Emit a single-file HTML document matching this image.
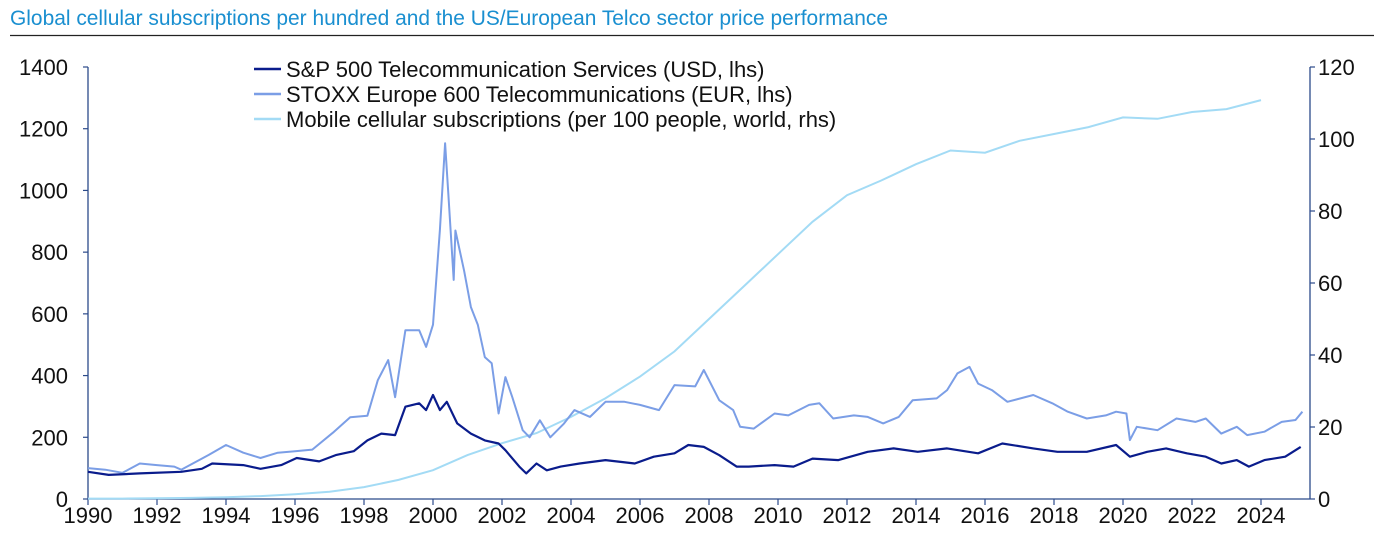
<!DOCTYPE html>
<html><head><meta charset="utf-8"><style>
body{margin:0;background:#fff;width:1374px;height:551px;overflow:hidden;font-family:"Liberation Sans",sans-serif}
svg text{font-family:"Liberation Sans",sans-serif}
</style></head><body>
<svg id="chart" width="1374" height="551" xmlns="http://www.w3.org/2000/svg">
<text x="10" y="25" font-size="20.8" fill="#1a8fd0" textLength="878" lengthAdjust="spacingAndGlyphs">Global cellular subscriptions per hundred and the US/European Telco sector price performance</text>
<line x1="10" y1="35.5" x2="1374" y2="35.5" stroke="#222" stroke-width="1.2"/>
<g id="axes"></g><g id="series"></g><g id="legend"></g>
</svg>
<script>
const spYears=[1990,1990.6,1991.5,1992.7,1993.3,1993.6,1994.5,1995,1995.6,1996.05,1996.7,1997.2,1997.7,1998.1,1998.5,1998.9,1999.2,1999.6,1999.8,2000,2000.2,2000.4,2000.7,2001.1,2001.5,2001.9,2002.1,2002.5,2002.7,2003,2003.3,2003.7,2004.25,2005,2005.85,2006.4,2007,2007.4,2007.85,2008.3,2008.8,2009.15,2009.9,2010.45,2011,2011.75,2012.6,2013.35,2014.05,2014.9,2015.8,2016.5,2017.4,2018.1,2018.95,2019.8,2020.2,2020.7,2021.25,2021.85,2022.4,2022.85,2023.3,2023.65,2024.1,2024.7,2025.15];
const spValues=[88,78,83,88,98,115,110,98,110,133,122,143,155,190,212,207,299,310,288,337,288,315,245,212,190,180,158,105,83,115,93,105,115,126,115,137,148,175,169,142,105,105,110,105,131,126,153,164,153,164,148,180,164,153,153,175,137,153,164,148,137,115,126,105,126,137,169];
const stYears=[1990,1990.5,1991,1991.5,1992,1992.5,1992.7,1993.5,1994,1994.5,1995,1995.5,1996,1996.5,1997.1,1997.6,1998.1,1998.4,1998.7,1998.9,1999.2,1999.6,1999.8,2000,2000.2,2000.35,2000.45,2000.6,2000.65,2000.9,2001.1,2001.3,2001.5,2001.7,2001.9,2002.1,2002.3,2002.6,2002.8,2003.1,2003.4,2003.8,2004.1,2004.55,2005,2005.55,2006,2006.55,2007,2007.6,2007.85,2008.3,2008.7,2008.9,2009.3,2009.9,2010.3,2010.9,2011.2,2011.6,2012.2,2012.6,2013.05,2013.5,2013.9,2014.6,2014.9,2015.2,2015.55,2015.8,2016.2,2016.65,2017.4,2017.95,2018.4,2018.95,2019.5,2019.8,2020.1,2020.2,2020.4,2021,2021.55,2022.1,2022.4,2022.85,2023.3,2023.6,2024.1,2024.6,2025,2025.2];
const stValues=[100,95,85,115,110,105,95,143,175,150,133,150,155,160,215,265,270,385,450,330,547,547,493,565,872,1153,980,710,870,740,622,565,460,440,277,395,330,223,200,255,200,245,288,266,315,315,305,288,369,365,418,320,288,234,228,277,271,305,310,261,271,266,245,266,320,326,353,407,428,374,353,315,337,310,283,261,271,283,277,191,234,223,261,250,261,212,234,207,218,250,256,283];
const mobYears=[1990,1991,1992,1993,1994,1995,1996,1997,1998,1999,2000,2001,2002,2003,2004,2005,2006,2007,2008,2009,2010,2011,2012,2013,2014,2015,2016,2017,2018,2019,2020,2021,2022,2023,2024];
const mobValues=[0.1,0.1,0.2,0.3,0.5,0.8,1.3,2,3.3,5.3,8,12.2,15.5,18.3,22.8,28,34,41,50,59,68,77,84.4,88.5,93,96.8,96.2,99.5,101.4,103.3,106,105.6,107.5,108.3,110.8];
const xTicks=[1990,1992,1994,1996,1998,2000,2002,2004,2006,2008,2010,2012,2014,2016,2018,2020,2022,2024];
const yLeftTicks=[0,200,400,600,800,1000,1200,1400];
const yRightTicks=[0,20,40,60,80,100,120];

const X0=88,X1=1310,Y0=499,Y1=67;
const xs=y=>X0+(y-1990)*34.5;
const yl=v=>Y0-v*(Y0-Y1)/1400;
const yr=v=>Y0-v*(Y0-Y1)/120;
const NS='http://www.w3.org/2000/svg';
function mk(tag,attrs,parent,txt){const e=document.createElementNS(NS,tag);for(const k in attrs)e.setAttribute(k,attrs[k]);if(txt!==undefined)e.textContent=txt;parent.appendChild(e);return e;}
const ax=document.getElementById('axes'),se=document.getElementById('series'),lg=document.getElementById('legend');
const AX='#2b4a8a';
const FS=22;
let e;
e=mk('line',{x1:X0,y1:Y1,x2:X0,y2:Y0,stroke:AX,'stroke-width':1.3},ax);


e=mk('line',{x1:X1,y1:Y1,x2:X1,y2:Y0,stroke:AX,'stroke-width':1.3},ax);


e=mk('line',{x1:X0,y1:Y0,x2:X1,y2:Y0,stroke:AX,'stroke-width':1.3},ax);


xTicks.forEach(t=>{
 e=mk('line',{x1:xs(t),y1:Y0,x2:xs(t),y2:Y0+6,stroke:AX,'stroke-width':1.2},ax);
 
 
 e=mk('text',{x:xs(t),y:Y0+24,'font-size':FS,'text-anchor':'middle',fill:'#111'},ax,String(t));
 
 
});
yLeftTicks.forEach(t=>{
 e=mk('line',{x1:X0-5,y1:yl(t),x2:X0,y2:yl(t),stroke:AX,'stroke-width':1.2},ax);
 
 
 e=mk('text',{x:68,y:yl(t)+8,'font-size':FS,'text-anchor':'end',fill:'#111'},ax,String(t));
 
 
});
yRightTicks.forEach(t=>{
 e=mk('line',{x1:X1,y1:yr(t),x2:X1+5,y2:yr(t),stroke:AX,'stroke-width':1.2},ax);
 
 
 e=mk('text',{x:1318,y:yr(t)+8,'font-size':FS,'text-anchor':'start',fill:'#111'},ax,String(t));
 
 
});
function pts(xa,va,f){return xa.map((x,i)=>xs(x).toFixed(1)+','+f(va[i]).toFixed(1)).join(' ');}
e=mk('polyline',{points:pts(mobYears,mobValues,yr),fill:'none',stroke:'#a3dbf5','stroke-width':2},se);


e=mk('polyline',{points:pts(stYears,stValues,yl),fill:'none',stroke:'#7b9ee6','stroke-width':2,'stroke-linejoin':'round'},se);


e=mk('polyline',{points:pts(spYears,spValues,yl),fill:'none',stroke:'#0a1c8c','stroke-width':2.2,'stroke-linejoin':'round'},se);


const legNames=['S&P 500 Telecommunication Services (USD, lhs)','STOXX Europe 600 Telecommunications (EUR, lhs)','Mobile cellular subscriptions (per 100 people, world, rhs)'];
const legColors=['#0a1c8c','#7b9ee6','#a3dbf5'];
legNames.forEach((n,i)=>{
 const y=69+i*25;
 e=mk('line',{x1:254,y1:y,x2:281,y2:y,stroke:legColors[i],'stroke-width':2.5},lg);
 
 
 e=mk('text',{x:286,y:y+8,'font-size':FS,fill:'#111'},lg,n);
 
 
});
</script>
</body></html>
